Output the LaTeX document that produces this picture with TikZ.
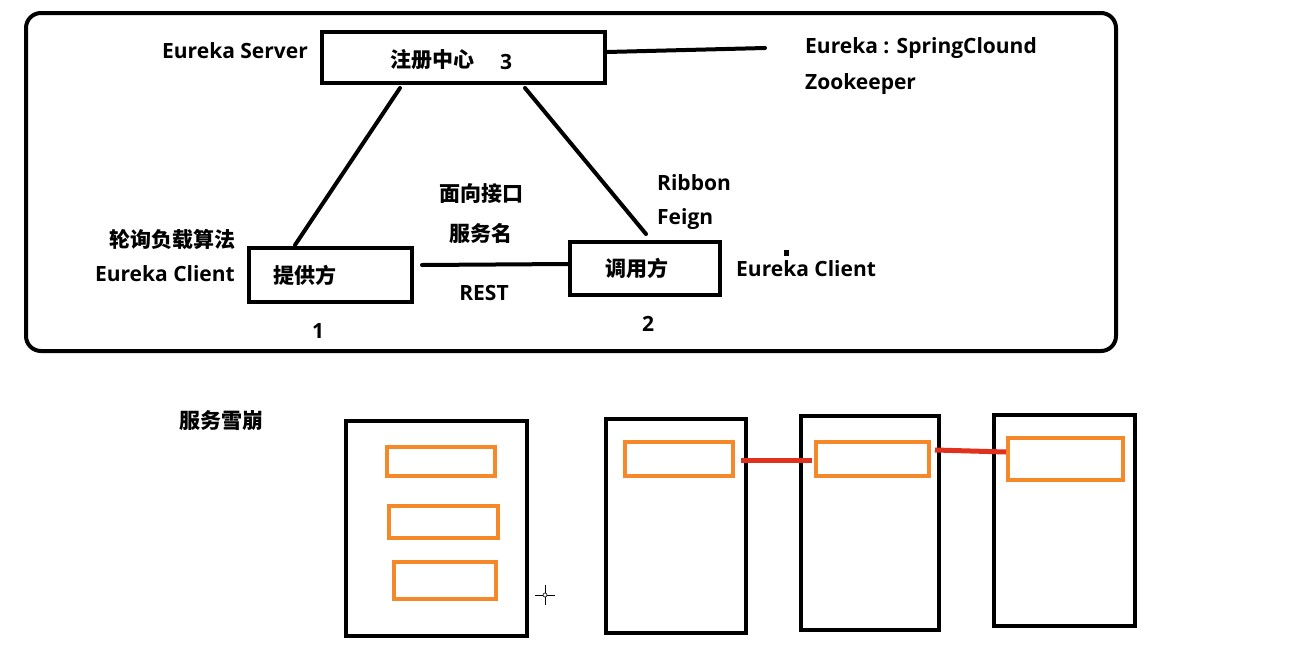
\documentclass[tikz,border=0pt]{standalone}
\usepackage{fontspec}
\setmainfont{Open Sans}
\newfontfamily\cjk{Noto Sans CJK SC}
\tikzset{
  box/.style={draw=black, line width=4pt, inner sep=0pt, minimum width=#1},
  obox/.style={draw=orangebox, line width=4pt, inner sep=0pt, minimum width=#1},
  lat/.style={font=\fontsize{21}{24}\selectfont\bfseries, inner sep=0pt},
  zh/.style={font=\fontsize{21}{24}\selectfont\cjk\bfseries, inner sep=0pt},
  conn/.style={line width=4pt, line cap=round},
  redconn/.style={draw=redline, line width=5pt},
}
\definecolor{orangebox}{HTML}{F5892A}
\definecolor{redline}{HTML}{E0301E}
\begin{document}
\begin{tikzpicture}[x=1pt,y=-1pt]
\useasboundingbox[fill=white] (0,0) rectangle (1304,648);
% outer frame
\draw[line width=4pt, rounded corners=15pt] (26,13) rectangle (1116,351);
% top boxes
\node[box=283, minimum height=51] (reg) at (463.5,57.5) {};
\node[box=163, minimum height=54] (prov) at (330.5,275) {};
\node[box=150, minimum height=53] (call) at (645,268.5) {};
\coordinate (regend) at (765,48);
% connectors
\draw[conn] ([xshift=80pt,yshift=-3pt]reg.south west) -- ([xshift=48pt,yshift=1pt]prov.north west);
\draw[conn] ([xshift=205pt,yshift=-3pt]reg.south west) -- ([xshift=78pt,yshift=6pt]call.north west);
\draw[conn] ([xshift=8pt,yshift=10pt]prov.east) -- ([yshift=4.5pt]call.west);
\draw[conn] ([yshift=5.5pt]reg.east) -- (regend);
% top labels
\node[lat] (es) at (235,51) {Eureka Server};
\node[zh] (zc) at (432,60) {注册中心};
\node[lat] (n3) at (506,62) {3};
\node[lat, anchor=west] (spring) at (805,48) {Eureka : SpringClound};
\node[lat, anchor=west] (zk) at (805,84) {Zookeeper};
\node[zh] (mx) at (481,194) {面向接口};
\node[zh] (fwm) at (481,233) {服务名};
\node[lat] (rest) at (484,293) {REST};
\node[zh, anchor=east] (lx) at (236,240) {轮询负载算法};
\node[lat, anchor=east] (ec1) at (235,274) {Eureka Client};
\node[zh] (tgf) at (305,275) {提供方};
\node[zh] (dyf) at (637,268) {调用方};
\node[lat] (n1) at (318,331) {1};
\node[lat] (n2) at (648,324) {2};
\node[lat, anchor=west] (rib) at (657,183) {Ribbon};
\node[lat, anchor=west] (fei) at (657,219) {Feign};
\node[lat, anchor=west] (ec2) at (736,269) {Eureka Client};
\fill (784,250) rectangle (789,256);
% bottom
\node[zh] (xb) at (221,421) {服务雪崩};
\node[box=181, minimum height=215] (A) at (436.5,528.5) {};
\node[box=140, minimum height=214] (B) at (676,526) {};
\node[box=138, minimum height=214] (C) at (870,523) {};
\node[box=141, minimum height=211] (D) at (1064.5,520.5) {};
\node[obox=108, minimum height=29] (A1) at (441,461.5) {};
\node[obox=109, minimum height=32] (A2) at (443.5,522) {};
\node[obox=102, minimum height=37] (A3) at (445,580.5) {};
\node[obox=108, minimum height=34] (B1) at (679,459) {};
\node[obox=113, minimum height=34] (C1) at (872.5,459) {};
\node[obox=115, minimum height=42] (D1) at (1065.5,459) {};
\draw[redconn] ([xshift=6pt,yshift=-1pt]B1.east) -- ([xshift=-2pt,yshift=-1pt]C1.west);
\draw[redconn] ([xshift=4pt,yshift=9pt]C1.east) -- ([yshift=7pt]D1.west);
% cursor
\draw[line width=0.6pt] (535,595) -- (555,595) (545,585) -- (545,605);
\draw[line width=0.6pt, fill=white] (545,595) circle (2pt);
\end{tikzpicture}
\end{document}
